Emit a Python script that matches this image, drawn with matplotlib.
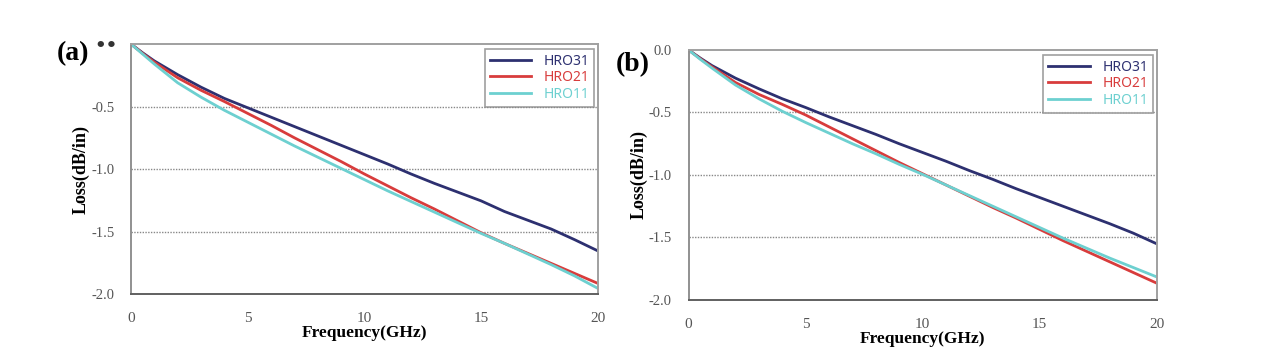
import matplotlib
matplotlib.use("Agg")
import matplotlib.pyplot as plt

freq = [0, 0.5, 1, 2, 3, 4, 5, 6, 7, 8, 9, 10, 11, 12, 13, 14, 15, 16, 17, 18, 19, 20]

# panel (a)
a_hro31 = [0, -0.07, -0.135, -0.245, -0.345, -0.435, -0.51, -0.585, -0.66, -0.735, -0.81,
           -0.885, -0.96, -1.04, -1.115, -1.185, -1.255, -1.34, -1.41, -1.48, -1.565, -1.655]
a_hro21 = [0, -0.075, -0.145, -0.27, -0.37, -0.46, -0.555, -0.65, -0.75, -0.845, -0.94,
           -1.04, -1.135, -1.23, -1.32, -1.415, -1.51, -1.595, -1.675, -1.755, -1.835, -1.915]
a_hro11 = [0, -0.08, -0.16, -0.31, -0.425, -0.53, -0.625, -0.72, -0.815, -0.905, -0.995,
           -1.085, -1.175, -1.26, -1.345, -1.43, -1.515, -1.595, -1.68, -1.765, -1.855, -1.955]

# panel (b)
b_hro31 = [0, -0.065, -0.125, -0.225, -0.31, -0.39, -0.46, -0.535, -0.605, -0.675, -0.75,
           -0.82, -0.89, -0.965, -1.035, -1.11, -1.18, -1.25, -1.32, -1.39, -1.465, -1.55]
b_hro21 = [0, -0.07, -0.135, -0.26, -0.355, -0.435, -0.52, -0.615, -0.71, -0.805, -0.9,
           -0.99, -1.08, -1.17, -1.26, -1.345, -1.435, -1.525, -1.61, -1.695, -1.78, -1.865]
b_hro11 = [0, -0.075, -0.145, -0.28, -0.39, -0.49, -0.58, -0.665, -0.75, -0.83, -0.915,
           -0.995, -1.08, -1.165, -1.25, -1.335, -1.42, -1.505, -1.585, -1.665, -1.74, -1.815]

names = ["HRO31", "HRO21", "HRO11"]
colors = ["#2d3070", "#d83c3c", "#6dd0d0"]
xticks = [0, 5, 10, 15, 20]
yticks = [0.0, -0.5, -1.0, -1.5, -2.0]

serif = "Liberation Serif"

fig = plt.figure(figsize=(12.8, 3.62), dpi=100)
fig.patch.set_facecolor("white")

ax1 = fig.add_axes([0.1023, 0.1878, 0.3648, 0.6906])
ax2 = fig.add_axes([0.538, 0.1713, 0.3656, 0.6906])

def style(ax, data, show_zero):
    for y, n, c in zip(data, names, colors):
        ax.plot(freq, y, color=c, lw=2, label=n)
    ax.set_xlim(0, 20)
    ax.set_ylim(-2.0, 0.0)
    ax.set_xticks(xticks)
    ax.set_yticks(yticks)
    ax.set_xticklabels([str(t) for t in xticks], family=serif, fontsize=11, color="#555555")
    ylabs = ["%.1f" % t for t in yticks]
    if not show_zero:
        ylabs[0] = ""
    ax.set_yticklabels(ylabs, family=serif, fontsize=10.5, color="#555555")
    ax.tick_params(length=0)
    ax.tick_params(axis="x", pad=13)
    ax.tick_params(axis="y", pad=12)
    for t in [-0.5, -1.0, -1.5]:
        ax.axhline(t, color="#888888", lw=1, ls=(0, (1, 1)), zorder=0)
    for s in ax.spines.values():
        s.set_color("#a0a0a0")
        s.set_linewidth(1.4)
    ax.spines["bottom"].set_color("#606060")
    ax.spines["left"].set_color("#909090")
    ax.set_xlabel("Frequency(GHz)", family=serif, fontweight="bold", fontsize=12.5, labelpad=0)
    ax.set_ylabel("Loss(dB/in)", family=serif, fontweight="bold", fontsize=13, labelpad=1)
    leg = ax.legend(loc="upper right", bbox_to_anchor=(1.0, 0.995), frameon=True, fancybox=False,
                    prop={"family": "Noto Sans", "size": 10}, handlelength=3.0,
                    borderpad=0.35, labelspacing=0.12, handletextpad=0.9, borderaxespad=0.25)
    leg.get_frame().set_edgecolor("#888888")
    leg.get_frame().set_linewidth(1.2)
    for txt, c in zip(leg.get_texts(), colors):
        txt.set_color(c)

style(ax1, [a_hro31, a_hro21, a_hro11], False)
style(ax2, [b_hro31, b_hro21, b_hro11], True)

fig.text(57 / 1280, 1 - 41 / 362, "(a)", family=serif, fontweight="bold", fontsize=20, va="top")
fig.text(94 / 1280, 1 - 37 / 362, "\u2022\u2022", family="DejaVu Sans", fontweight="bold",
         fontsize=13, color="#333333", va="top")
fig.text(616 / 1280, 1 - 52 / 362, "(b)", family=serif, fontweight="bold", fontsize=20, va="top")

fig.savefig("out.png", dpi=100, facecolor="white")
